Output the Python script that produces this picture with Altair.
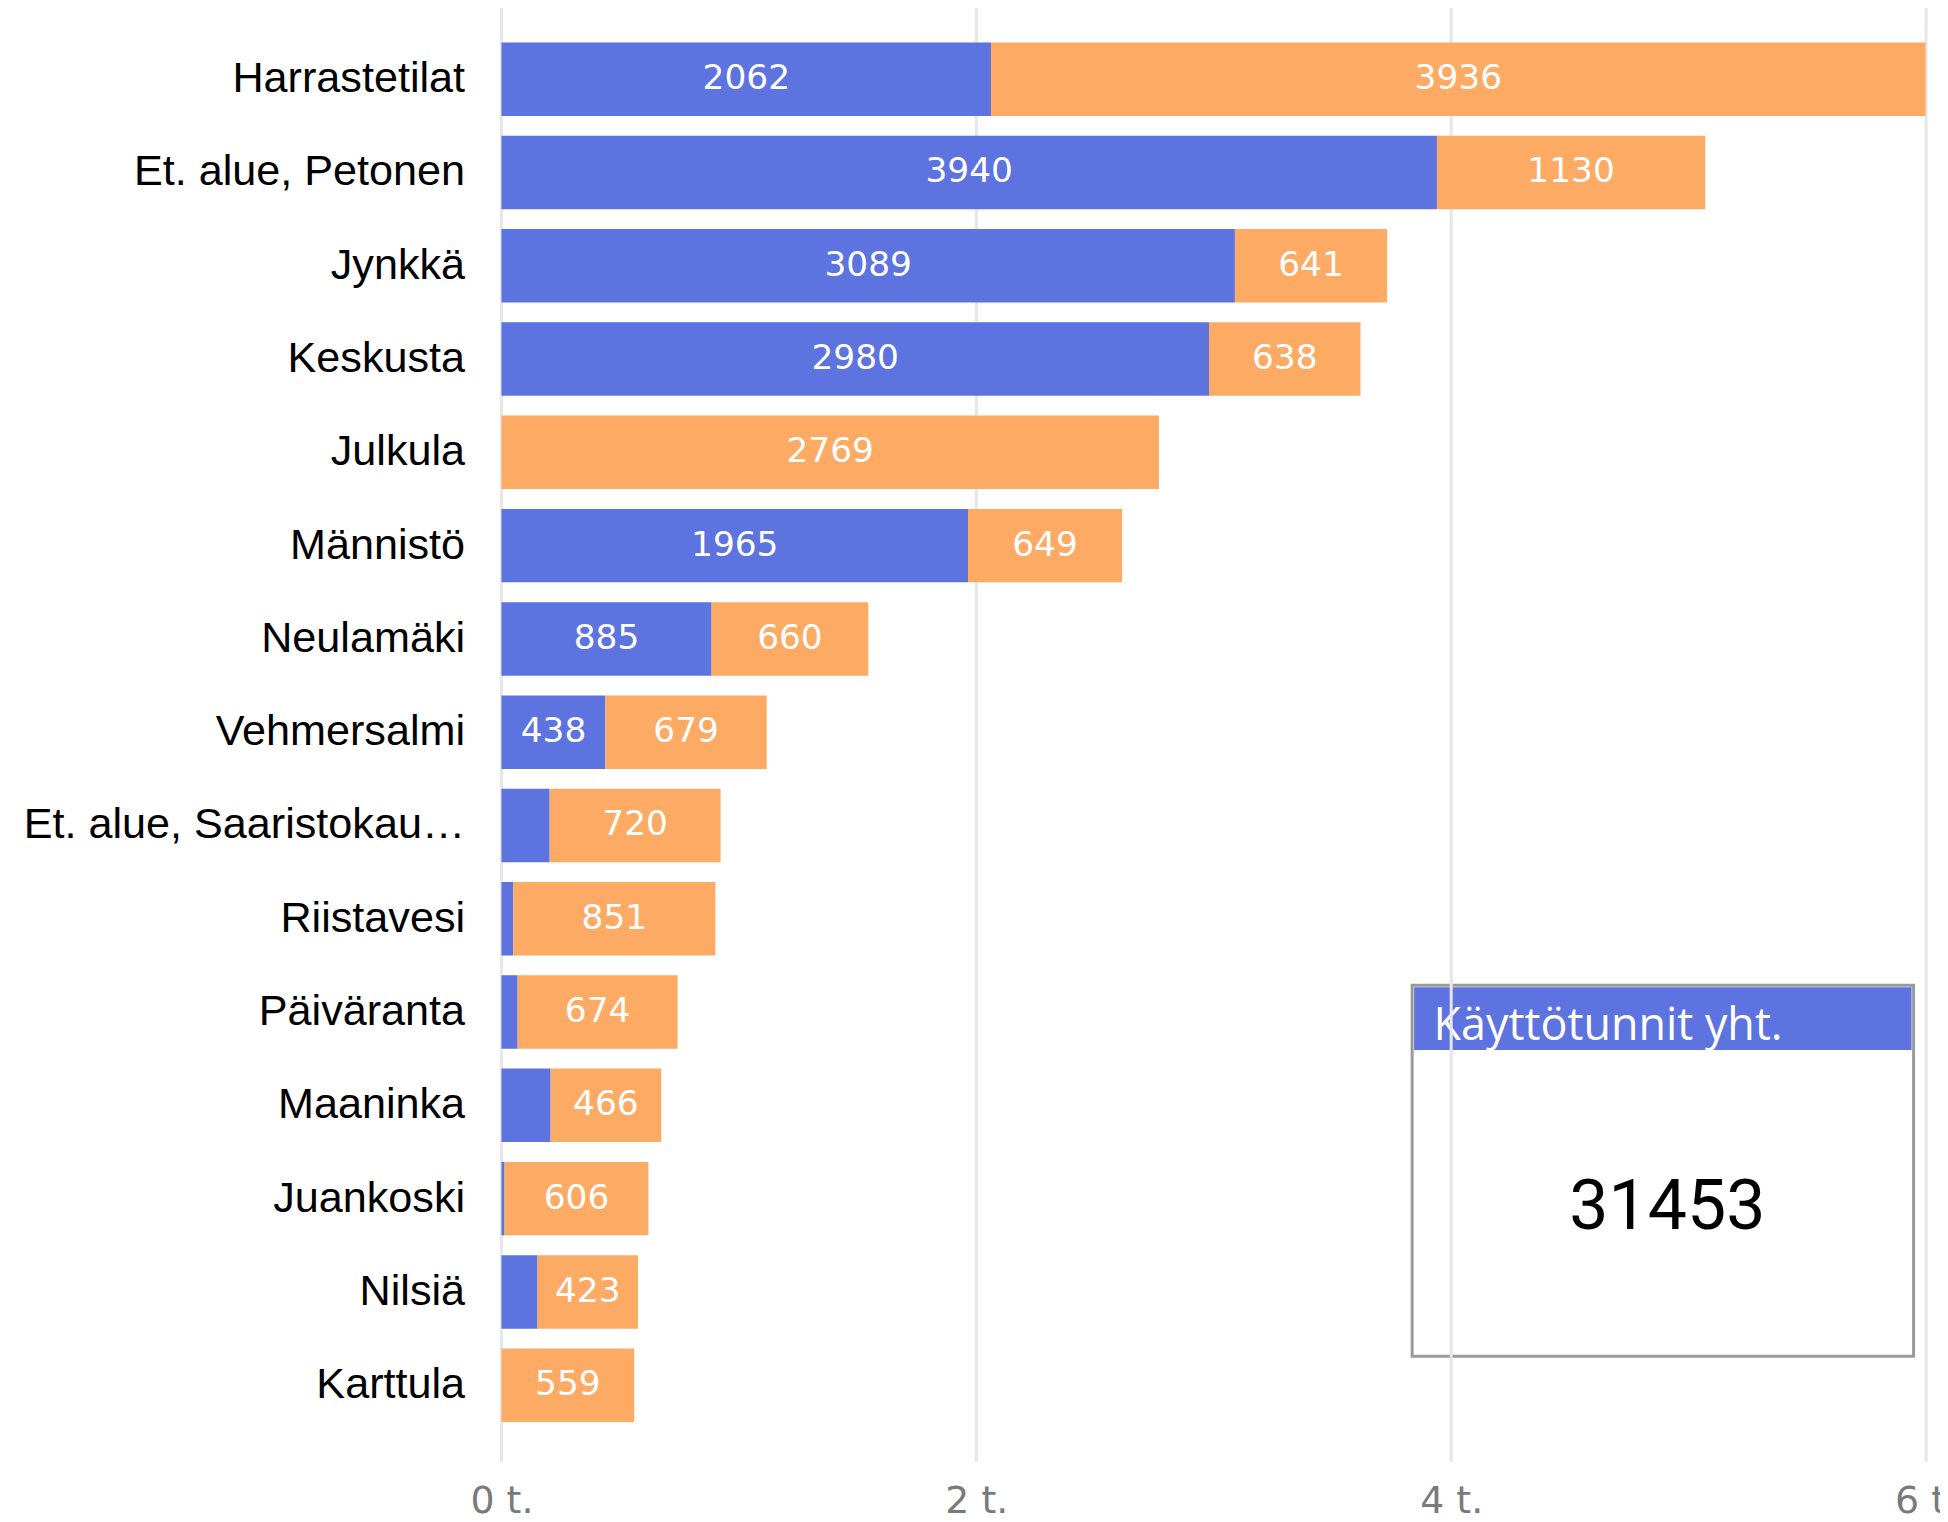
import altair as alt
import pandas as pd

categories = ["Harrastetilat", "Et. alue, Petonen", "Jynkkä", "Keskusta", "Julkula",
              "Männistö", "Neulamäki", "Vehmersalmi", "Et. alue, Saaristokaupunki",
              "Riistavesi", "Päiväranta", "Maaninka", "Juankoski", "Nilsiä", "Karttula"]
series_names = ["Sarja 1", "Sarja 2"]
series_1 = [2062, 3940, 3089, 2980, 0, 1965, 885, 438, 203, 50, 68, 207, 13, 152, 0]
series_2 = [3936, 1130, 641, 638, 2769, 649, 660, 679, 720, 851, 674, 466, 606, 423, 559]
colors = ["#5C73E0", "#FDAB64"]
x_ticks = [0, 2000, 4000, 6000]
kpi_title = "Käyttötunnit yht."

rows = []
for i, c in enumerate(categories):
    rows.append({"category": c, "series": series_names[0], "value": series_1[i], "order": 0})
    rows.append({"category": c, "series": series_names[1], "value": series_2[i], "order": 1})
df = pd.DataFrame(rows)

W, H = 1429, 1460

y_axis = alt.Axis(title=None, labelFontSize=43.3, labelFont="Liberation Sans",
                  labelColor="#000000", labelPadding=37, labelLimit=458,
                  ticks=False, domain=False, grid=False)
x_axis = alt.Axis(values=x_ticks, labelExpr="datum.value / 1000 + ' t.'", title=None,
                  grid=False, ticks=False, domain=False, labelFontSize=38,
                  labelFont="DejaVu Sans", labelColor="#7A7A7A", labelPadding=21,
                  labelFlush=False)
y_scale = alt.Scale(paddingInner=0.2125, paddingOuter=0.4075, align=0.475)
x_scale = alt.Scale(domain=[0, 6000], nice=False)

base = alt.Chart(df).transform_stack(
    stack="value", as_=["x0", "x1"], groupby=["category"],
    sort=[alt.SortField("order", order="ascending")]
).transform_calculate(mid="(datum.x0 + datum.x1) / 2")

bars = base.mark_bar(strokeWidth=0).encode(
    x=alt.X("x0:Q", scale=x_scale, axis=x_axis),
    x2="x1:Q",
    y=alt.Y("category:N", sort=categories, scale=y_scale, axis=y_axis),
    color=alt.Color("series:N", scale=alt.Scale(domain=series_names, range=colors), legend=None),
)

labels = base.transform_filter("datum.value >= 300").mark_text(
    color="white", font="DejaVu Sans", fontSize=34.5, baseline="middle", align="center"
).encode(
    x=alt.X("mid:Q", scale=x_scale, axis=x_axis),
    y=alt.Y("category:N", sort=categories, scale=y_scale, axis=y_axis),
    text=alt.Text("value:Q", format="d"),
)

grid = alt.Chart(pd.DataFrame({"tick": x_ticks})).mark_rule(color="#E6E6E6", strokeWidth=3).encode(
    x=alt.X("tick:Q", scale=x_scale, axis=x_axis),
    y=alt.value(0), y2=alt.value(H),
)

title_df = pd.DataFrame({"title": [kpi_title]})
box = alt.Chart(title_df).mark_rect(fill="white", stroke="#9A9A9A", strokeWidth=3).encode(
    x=alt.value(913.5), x2=alt.value(1416.5), y=alt.value(982), y2=alt.value(1354))
header = alt.Chart(title_df).mark_rect(fill=colors[0]).encode(
    x=alt.value(915.5), x2=alt.value(1414.5), y=alt.value(984), y2=alt.value(1047))
header_text = alt.Chart(title_df).mark_text(
    align="left", baseline="alphabetic", font="Open Sans", fontSize=45, color="white"
).encode(x=alt.value(935), y=alt.value(1037), text="title:N")

kpi = alt.Chart(df).transform_aggregate(total="sum(value)").mark_text(
    align="center", baseline="alphabetic", font="Roboto", fontSize=70, color="#000000"
).encode(x=alt.value(1169.5), y=alt.value(1226), text=alt.Text("total:Q", format="d"))

chart = alt.layer(box, header, header_text, grid, bars, labels, kpi).properties(
    width=W, height=H,
    autosize=alt.AutoSizeParams(type="none"),
    padding={"left": 495, "top": -4, "right": 14, "bottom": 58},
).configure_view(stroke=None)

chart.save("out.html", embed_options={"renderer": "svg", "actions": False})
